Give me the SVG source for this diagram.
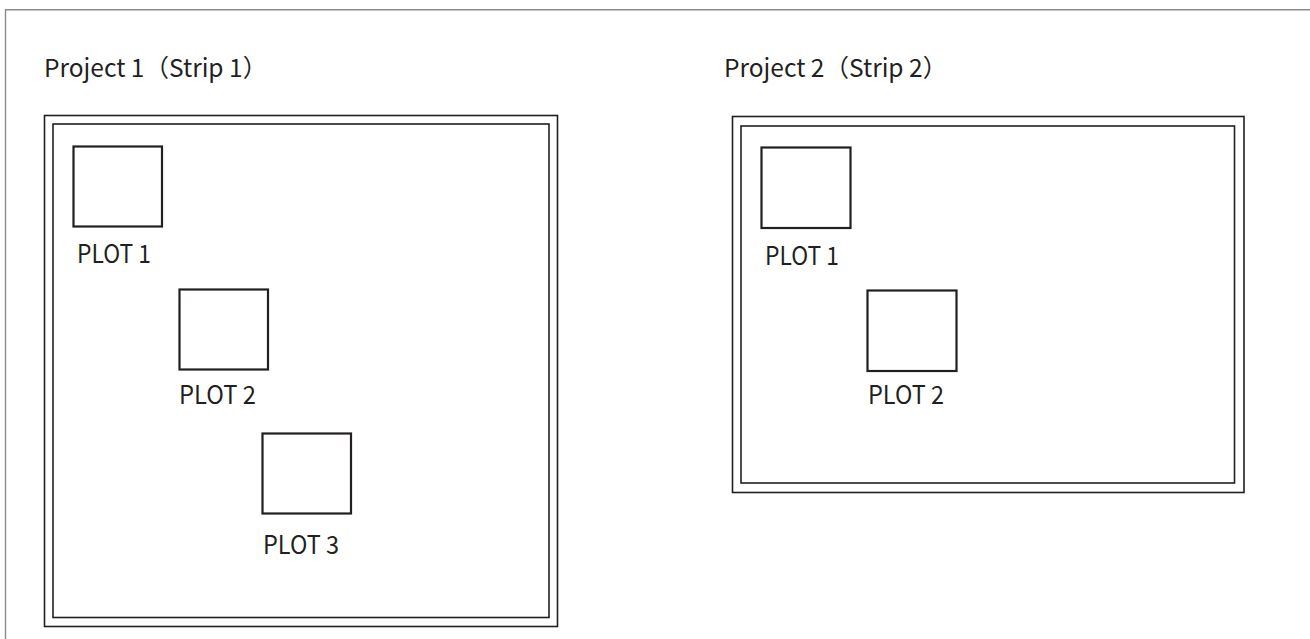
<svg xmlns="http://www.w3.org/2000/svg" width="1310" height="639" viewBox="0 0 1310 639">
<style>
.frame{fill:none;stroke:#8a8a8a;stroke-width:1.4}
.dbl{fill:none;stroke:#231f20;stroke-width:1.6}
.plot{fill:#fff;stroke:#231f20;stroke-width:2.2}
.t{font-family:"Noto Sans CJK SC","Noto Sans",sans-serif;fill:#231f20}
.title{font-size:24.5px}
.lbl{font-size:25px}
</style>
<rect width="1310" height="639" fill="#fff"/>
<path class="frame" d="M5.5,639 V9.7 H1320"/>
<g id="project1">
<text class="t title" x="44" y="77">Project 1（Strip 1）</text>
<rect class="dbl" x="44.5" y="115.5" width="513" height="511"/>
<rect class="dbl" x="53" y="124" width="496" height="493.5"/>
</g>
<g id="p1-plot1">
<rect class="plot" x="73.5" y="146.5" width="88.5" height="80"/>
<text class="t lbl" x="77" y="263" textLength="74" lengthAdjust="spacingAndGlyphs">PLOT 1</text>
</g>
<g id="p1-plot2">
<rect class="plot" x="179.5" y="289.5" width="88.5" height="80"/>
<text class="t lbl" x="179" y="404" textLength="77" lengthAdjust="spacingAndGlyphs">PLOT 2</text>
</g>
<g id="p1-plot3">
<rect class="plot" x="262.5" y="433.5" width="88.5" height="80"/>
<text class="t lbl" x="263" y="554" textLength="76" lengthAdjust="spacingAndGlyphs">PLOT 3</text>
</g>
<g id="project2">
<text class="t title" x="724" y="77">Project 2（Strip 2）</text>
<rect class="dbl" x="732.5" y="116.5" width="511.5" height="376"/>
<rect class="dbl" x="741" y="126" width="493.5" height="357"/>
</g>
<g id="p2-plot1">
<rect class="plot" x="761.5" y="147.5" width="89" height="80.5"/>
<text class="t lbl" x="765" y="265" textLength="74" lengthAdjust="spacingAndGlyphs">PLOT 1</text>
</g>
<g id="p2-plot2">
<rect class="plot" x="867.5" y="290.5" width="89" height="80.5"/>
<text class="t lbl" x="868" y="404" textLength="76" lengthAdjust="spacingAndGlyphs">PLOT 2</text>
</g>
<g id="connectors"></g>
</svg>
